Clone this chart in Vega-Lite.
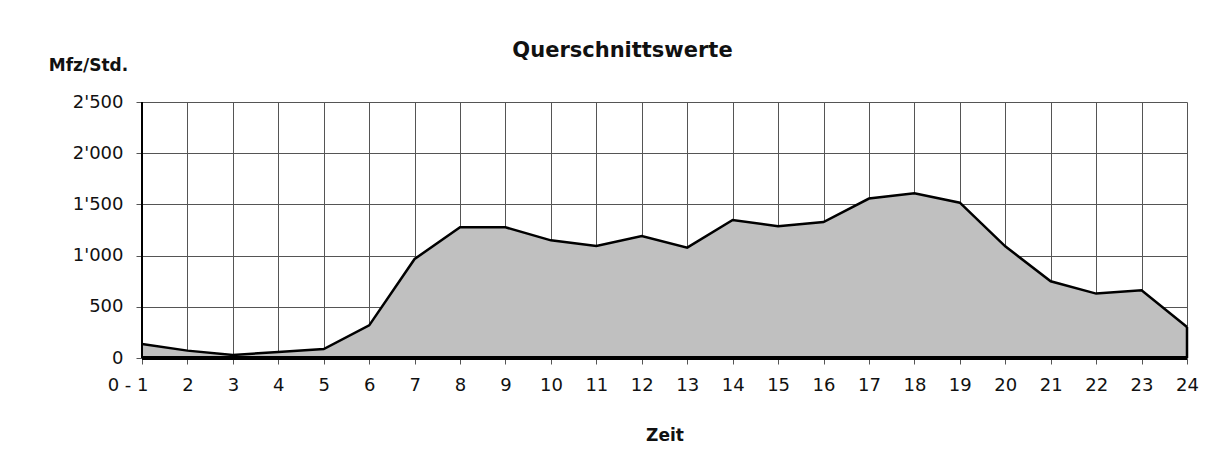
{
  "$schema": "https://vega.github.io/schema/vega-lite/v6.json",
  "width": 1045,
  "height": 256,
  "autosize": "none",
  "padding": {"left": 142, "top": 102, "right": 38, "bottom": 107},
  "background": "white",
  "title": {
    "text": "Querschnittswerte",
    "font": "DejaVu Sans",
    "fontSize": 21,
    "fontWeight": "bold",
    "color": "#111",
    "anchor": "middle",
    "frame": "group",
    "dx": -42,
    "dy": 9
  },
  "data": {
    "values": [
      {"h": 1, "v": 137}, {"h": 2, "v": 72}, {"h": 3, "v": 29}, {"h": 4, "v": 59},
      {"h": 5, "v": 88}, {"h": 6, "v": 319}, {"h": 7, "v": 967}, {"h": 8, "v": 1276},
      {"h": 9, "v": 1276}, {"h": 10, "v": 1149}, {"h": 11, "v": 1094}, {"h": 12, "v": 1191},
      {"h": 13, "v": 1078}, {"h": 14, "v": 1348}, {"h": 15, "v": 1286}, {"h": 16, "v": 1328},
      {"h": 17, "v": 1557}, {"h": 18, "v": 1608}, {"h": 19, "v": 1517}, {"h": 20, "v": 1091},
      {"h": 21, "v": 749}, {"h": 22, "v": 629}, {"h": 23, "v": 661}, {"h": 24, "v": 303}
    ]
  },
  "layer": [
    {
      "mark": {"type": "area", "color": "#c0c0c0", "opacity": 1},
      "encoding": {
        "x": {
          "field": "h", "type": "quantitative",
          "scale": {"domain": [1, 24], "nice": false, "zero": false},
          "axis": {
            "values": [1,2,3,4,5,6,7,8,9,10,11,12,13,14,15,16,17,18,19,20,21,22,23,24],
            "labelExpr": "datum.value == 1 ? '0 - 1' : datum.value",
            "labelAlign": {"condition": {"test": "datum.value == 1", "value": "right"}, "value": "center"},
            "labelOffset": {"condition": {"test": "datum.value == 1", "value": 6}, "value": 0},
            "labelFont": "DejaVu Sans",
            "labelFontSize": 18,
            "labelColor": "#111",
            "labelPadding": 12,
            "tickSize": 6,
            "tickColor": "#555",
            "grid": true,
            "gridColor": "#555",
            "gridOpacity": 1,
            "gridWidth": 1,
            "domain": false,
            "title": "Zeit",
            "titleFont": "DejaVu Sans",
            "titleFontSize": 17,
            "titleFontWeight": "bold",
            "titleColor": "#111",
            "titleAnchor": "middle",
            "titleBaseline": "alphabetic",
            "titleY": 82
          }
        },
        "y": {
          "field": "v", "type": "quantitative",
          "scale": {"domain": [0, 2500], "nice": false},
          "axis": {
            "values": [0, 500, 1000, 1500, 2000, 2500],
            "labelExpr": "replace(format(datum.value, ','), ',', \"'\")",
            "labelFont": "DejaVu Sans",
            "labelFontSize": 18,
            "labelColor": "#111",
            "labelPadding": 13,
            "tickSize": 6,
            "tickColor": "#555",
            "grid": true,
            "gridColor": "#555",
            "gridOpacity": 1,
            "gridWidth": 1,
            "domain": true,
            "domainColor": "#000",
            "domainWidth": 1,
            "title": "Mfz/Std.",
            "titleFont": "DejaVu Sans",
            "titleAngle": 0,
            "titleFontSize": 17,
            "titleFontWeight": "bold",
            "titleColor": "#111",
            "titleAlign": "center",
            "titleBaseline": "alphabetic",
            "titleX": -54,
            "titleY": -32
          }
        }
      }
    },
    {
      "mark": {"type": "line", "color": "#000", "strokeWidth": 2.5, "strokeJoin": "miter"},
      "encoding": {
        "x": {"field": "h", "type": "quantitative"},
        "y": {"field": "v", "type": "quantitative"}
      }
    },
    {
      "transform": [{"filter": "datum.h == 24"}],
      "mark": {"type": "rule", "color": "#000", "strokeWidth": 2.5},
      "encoding": {
        "x": {"field": "h", "type": "quantitative"},
        "y": {"field": "v", "type": "quantitative"},
        "y2": {"datum": 0}
      }
    },
    {
      "mark": {"type": "rule", "color": "#000", "strokeWidth": 1},
      "encoding": {"x": {"datum": 1}}
    },
    {
      "mark": {"type": "rule", "color": "#000", "strokeWidth": 2.5},
      "encoding": {"y": {"datum": 0}}
    }
  ],
  "config": {
    "font": "DejaVu Sans",
    "view": {"stroke": null}
  }
}
